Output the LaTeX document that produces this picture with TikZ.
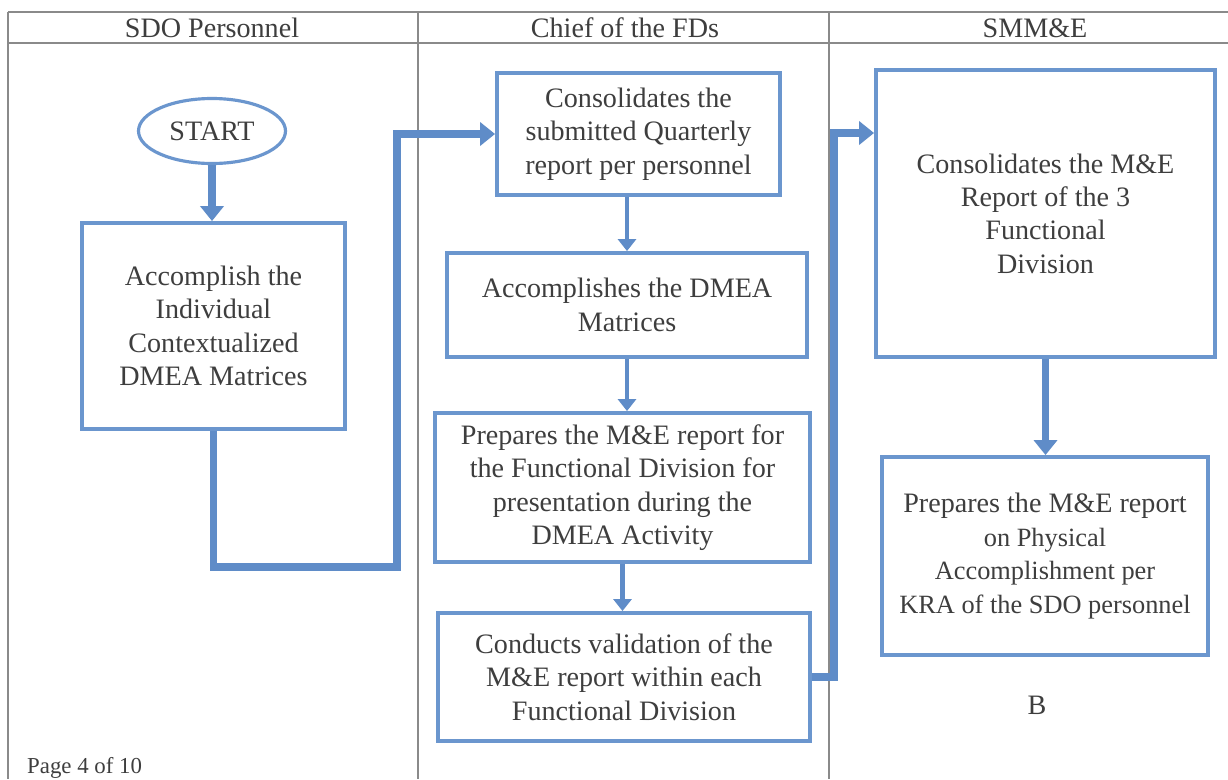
\documentclass[tikz,border=0pt]{standalone}
\usepackage{fontspec}
\setmainfont{Liberation Serif}
\usepackage{xcolor}
\usepackage{tikz}
\usetikzlibrary{arrows.meta, shapes.geometric, calc}
\definecolor{bleu}{HTML}{6B96CE}
\definecolor{bleufonce}{HTML}{5F8CC8}
\definecolor{texte}{HTML}{3E3E3E}
\definecolor{gris}{HTML}{8A8A8A}
\tikzset{
  bloc/.style={rectangle, draw=bleu, line width=2.2pt, fill=white, text=texte,
    font=\fontsize{16}{19}\selectfont, align=center, inner sep=0.5mm},
  debut/.style={ellipse, draw=bleu, line width=1.8pt, fill=white, text=texte,
    font=\fontsize{16}{19}\selectfont, minimum width=2.94cm, minimum height=1.3cm, inner sep=0pt},
  fleche/.style={-{Triangle[length=3mm, width=4.6mm]}, line width=4.2pt, color=bleufonce},
  flechefine/.style={-{Triangle[length=2.4mm, width=3.6mm]}, line width=2.8pt, color=bleufonce},
  trait/.style={line width=0.7pt, color=gris},
  entete/.style={font=\fontsize{16}{19}\selectfont, text=texte},
  etiquette/.style={font=\fontsize{13}{15}\selectfont, text=texte}
}

\begin{document}
\begin{tikzpicture}
    \path[fill=white, use as bounding box] (0, 0) rectangle (24.56, -15.58);

    % grille des colonnes
    \draw[trait] (0.16, -0.24) -- (24.56, -0.24);
    \draw[trait] (0.16, -0.86) -- (24.56, -0.86);
    \foreach \x in {0.16, 8.36, 16.58} { \draw[trait] (\x, -0.24) -- (\x, -15.58); }

    \node[entete] (h1) at (4.24, -0.56)  {SDO Personnel};
    \node[entete] (h2) at (12.5, -0.56)  {Chief of the FDs};
    \node[entete] (h3) at (20.7, -0.56)  {SMM\&E};

    \node[debut] (start) at (4.24, -2.62) {START};
    \node[bloc, minimum width=5.26cm, minimum height=4.12cm] (b1) at (4.27, -6.52)
      {Accomplish the\\ Individual\\ Contextualized\\ DMEA Matrices};
    \node[bloc, minimum width=5.66cm, minimum height=2.44cm] (b2) at (12.77, -2.68)
      {Consolidates the\\ submitted Quarterly\\ report per personnel};
    \node[bloc, minimum width=7.2cm, minimum height=2.08cm] (b3) at (12.54, -6.10)
      {Accomplishes the DMEA\\ Matrices};
    \node[bloc, minimum width=7.5cm, minimum height=2.98cm] (b4) at (12.45, -9.75)
      {Prepares the M\&E report for\\ the Functional Division for\\ presentation during the\\ DMEA Activity};
    \node[bloc, minimum width=7.44cm, minimum height=2.56cm] (b5) at (12.48, -13.54)
      {Conducts validation of the\\ M\&E report within each\\ Functional Division};
    \node[bloc, minimum width=6.78cm, minimum height=5.74cm] (b6) at (20.91, -4.27)
      {Consolidates the M\&E\\ Report of the 3\\ Functional\\ Division};
    \node[bloc, minimum width=6.52cm, minimum height=3.96cm] (b7) at (20.9, -11.12)
      {Prepares the M\&E report\\ {\fontsize{15}{19}\selectfont on Physical}\\
       {\fontsize{15}{19}\selectfont Accomplishment per}\\ {\fontsize{15}{19}\selectfont KRA of the SDO personnel}};

    \node[entete] (b) at (20.74, -14.1) {B};
    \node[etiquette, anchor=west] (page) at (0.42, -15.36) {Page 4 of 10};

    \coordinate (coude1) at (7.94, -11.34);
    \coordinate (coude2) at (16.68, -2.66);

    \draw[fleche] (start.south) -- (start.south |- b1.north);
    \draw[fleche] (b1.south) |- (coude1) |- (b2.west);
    \draw[flechefine] (b2.south -| b3.north) -- (b3.north);
    \draw[flechefine] (b3.south) -- (b3.south |- b4.north);
    \draw[flechefine] (b4.south) -- (b4.south |- b5.north);
    \draw[fleche] (b5.east) -| (coude2) -- (coude2 -| b6.west);
    \draw[fleche] (b6.south) -- (b6.south |- b7.north);
\end{tikzpicture}
\end{document}
